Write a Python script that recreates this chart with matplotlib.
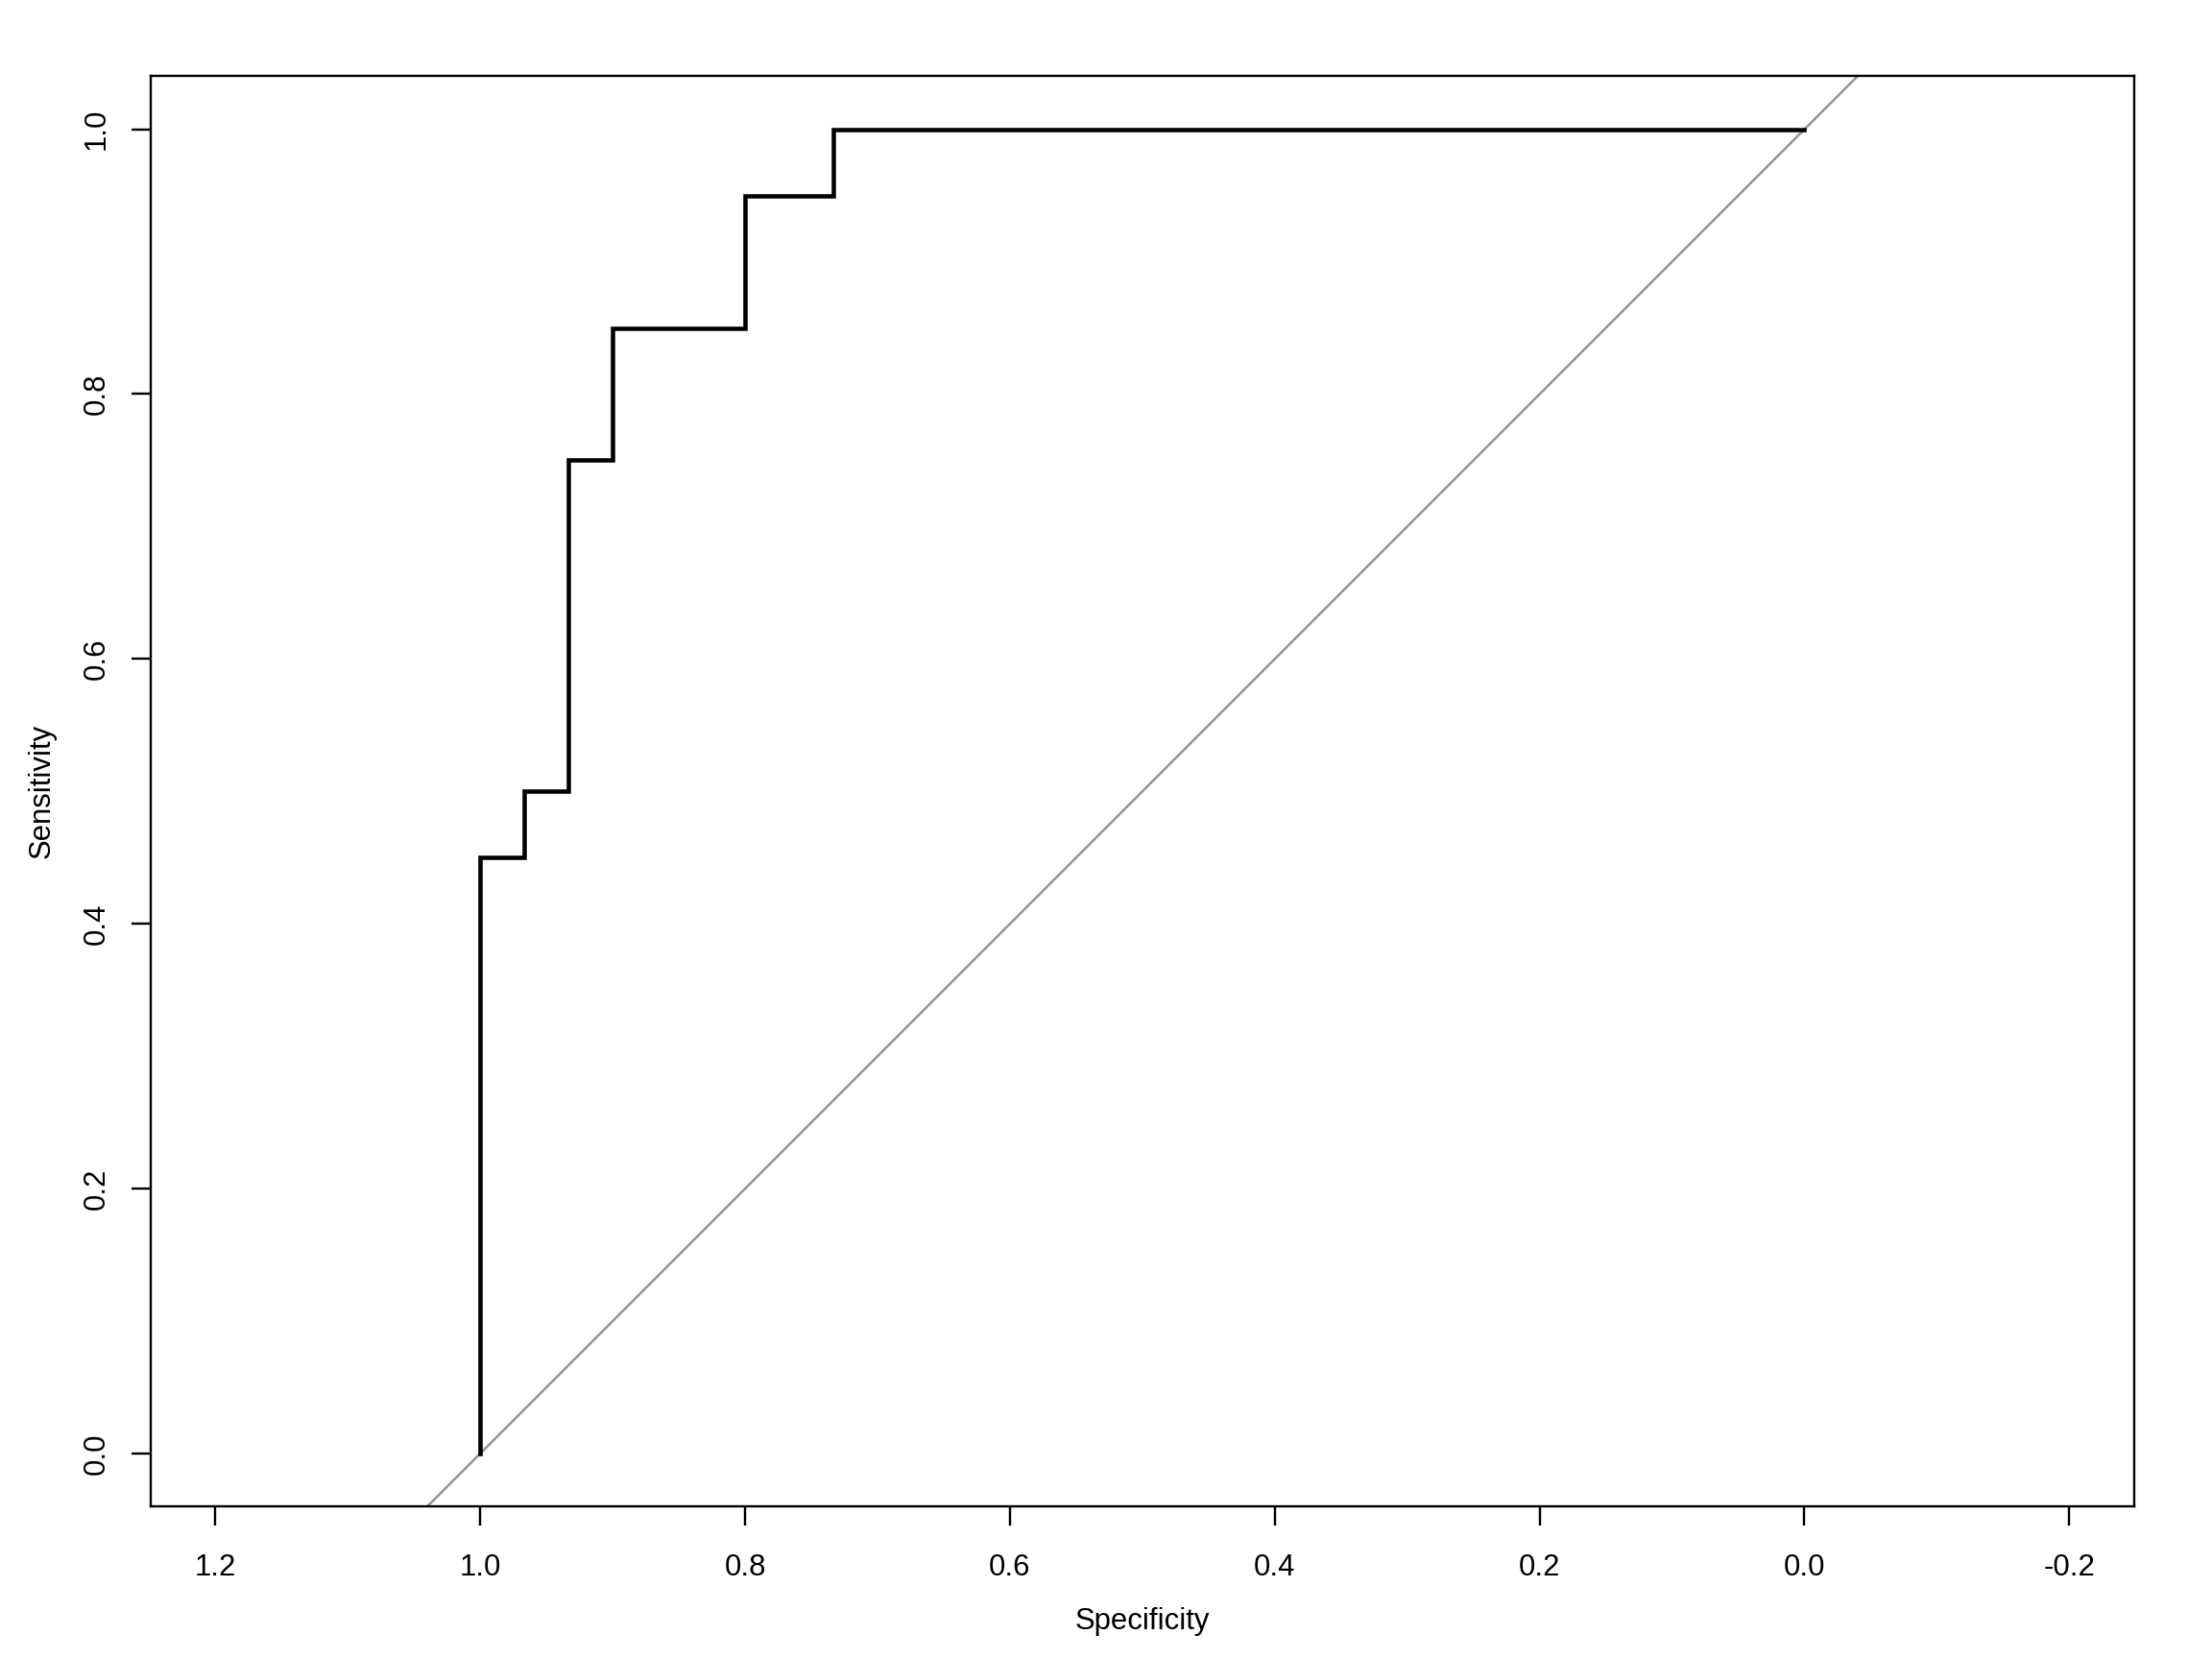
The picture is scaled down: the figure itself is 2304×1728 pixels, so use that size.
import matplotlib
matplotlib.use("Agg")
from matplotlib import pyplot as plt
import numpy as np

# ROC curve points (specificity, sensitivity)
specificity = [1.0, 1.0, 29/30, 29/30, 28/30, 28/30, 27/30, 27/30, 24/30, 24/30, 22/30, 22/30, 0.0]
sensitivity = [0.0, 0.45, 0.45, 0.50, 0.50, 0.75, 0.75, 0.85, 0.85, 0.95, 0.95, 1.0, 1.0]
x_ticks = [1.2, 1.0, 0.8, 0.6, 0.4, 0.2, 0.0, -0.2]
y_ticks = [0.0, 0.2, 0.4, 0.6, 0.8, 1.0]

plt.rcParams['font.family'] = ['Liberation Sans', 'DejaVu Sans']

fig = plt.figure(figsize=(12, 9), dpi=192)
ax = fig.add_axes([0.0681, 0.092, 0.8967, 0.862])

# chance diagonal
d = np.array([1.3, -0.3])
ax.plot(d, 1 - d, color='#999999', lw=1.0)
ax.plot(specificity, sensitivity, color='black', lw=1.7, solid_joinstyle='miter')

ax.set_xlim(1.249, -0.249)
ax.set_ylim(-0.04, 1.04)
ax.set_xticks(x_ticks)
ax.set_xticklabels(['%.1f' % v for v in x_ticks])
ax.set_yticks(y_ticks)
ax.set_yticklabels(['%.1f' % v for v in y_ticks], rotation=90, va='center')
ax.tick_params(direction='out', length=7.5, width=0.9, labelsize=11.7)
ax.tick_params(axis='x', pad=10.7)
ax.tick_params(axis='y', pad=8)
for s in ax.spines.values():
    s.set_linewidth(0.9)

ax.set_xlabel('Specificity', fontsize=11.7, labelpad=10)
ax.set_ylabel('Sensitivity', fontsize=11.7, labelpad=10)

fig.savefig('out.png', dpi=192)
